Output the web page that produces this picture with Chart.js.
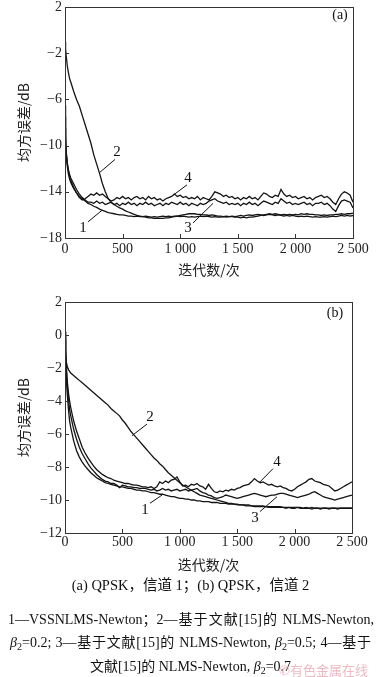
<!DOCTYPE html>
<html>
<head>
<meta charset="utf-8">
<script src="https://cdn.jsdelivr.net/npm/chart.js@4.4.1/dist/chart.umd.min.js"></script>
<style>
  body { margin: 0; width: 381px; height: 677px; overflow: hidden; background: #fff; position: relative; }
  canvas { position: absolute; left: 0; }
  #chart-a { top: 0; }
  #chart-b { top: 290px; }
  .cap { position: absolute; left: 0; width: 381px; font: 14px "Liberation Serif", "Noto Sans CJK SC", serif; color: #111; white-space: nowrap; line-height: 18px; }
  .just { text-align: justify; text-align-last: justify; }
  .mid { text-align: center; }
  .cap i { font-style: italic; }
  .cap sub { font-size: 10px; vertical-align: -3px; line-height: 0; }
  #mark { position: absolute; left: 279px; top: 660px; font: 13px "Noto Sans CJK SC", sans-serif; color: #efb9c3; }
</style>
</head>
<body>
<canvas id="chart-a" width="381" height="282"></canvas>
<canvas id="chart-b" width="381" height="290"></canvas>

<div class="cap mid" style="top:576px; font-size:14.5px;">(a) QPSK，信道 1；(b) QPSK，信道 2</div>
<div class="cap just" style="top:611px; left:8px; width:366px;">1—VSSNLMS-Newton；2—基于文献[15]的 NLMS-Newton,</div>
<div class="cap just" style="top:634px; left:10px; width:361px;"><i>β</i><sub>2</sub>=0.2; 3—基于文献[15]的 NLMS-Newton, <i>β</i><sub>2</sub>=0.5; 4—基于</div>
<div class="cap mid" style="top:658px;">文献[15]的 NLMS-Newton, <i>β</i><sub>2</sub>=0.7</div>
<div id="mark">✆有色金属在线</div>

<script>
// 迭代次数（两幅图共用）
const iterations = [0, 5, 10, 20, 30, 40, 50,
  75, 100, 125, 150, 175, 200, 225, 250, 275, 300,
  325, 350, 375, 400, 425, 450, 475, 500, 525, 550,
  575, 600, 625, 650, 675, 700, 725, 750, 775, 800,
  825, 850, 875, 900, 925, 950, 975, 1000, 1025, 1050,
  1075, 1100, 1125, 1150, 1175, 1200, 1225, 1250, 1275, 1300,
  1325, 1350, 1375, 1400, 1425, 1450, 1475, 1500, 1525, 1550,
  1575, 1600, 1625, 1650, 1675, 1700, 1725, 1750, 1775, 1800,
  1825, 1850, 1875, 1900, 1925, 1950, 1975, 2000, 2025, 2050,
  2075, 2100, 2125, 2150, 2175, 2200, 2225, 2250, 2275, 2300,
  2325, 2350, 2375, 2400, 2425, 2450, 2475, 2500];

// (a) QPSK，信道 1
const mseA1 = [-6.5, -9.0, -10.5, -11.8, -12.5, -12.9, -13.2,
  -13.7, -14.1, -14.4, -14.6, -14.8, -15.0, -15.1, -15.25, -15.35, -15.5,
  -15.6, -15.7, -15.8, -15.85, -15.9, -15.95, -16.0, -16.0, -16.05, -16.1,
  -16.1, -16.15, -16.1, -16.15, -16.15, -16.1, -16.15, -16.2, -16.15, -16.2,
  -16.15, -16.1, -16.15, -16.1, -16.15, -16.1, -16.1, -16.15, -16.1, -16.15,
  -16.2, -16.15, -16.2, -16.15, -16.1, -16.15, -16.1, -16.15, -16.2, -16.15,
  -16.2, -16.2, -16.15, -16.2, -16.15, -16.1, -16.15, -16.1, -16.05, -16.1,
  -16.05, -16.0, -16.05, -16.0, -15.95, -16.0, -16.05, -16.0, -15.95, -16.0,
  -16.05, -16.0, -16.05, -16.1, -16.05, -16.1, -16.05, -16.1, -16.15, -16.1,
  -16.15, -16.1, -16.15, -16.2, -16.15, -16.2, -16.2, -16.15, -16.2, -16.15,
  -16.1, -16.15, -16.1, -16.05, -16.1, -16.05, -16.1, -16.05];
const mseA2 = [-1.0, -1.6, -2.2, -3.1, -3.7, -4.2, -4.5,
  -5.3, -6.0, -6.6, -7.4, -8.2, -9.0, -9.8, -10.8, -11.6, -12.4,
  -13.3, -14.0, -14.6, -14.9, -15.1, -15.25, -15.4, -15.5, -15.65, -15.75,
  -15.85, -15.95, -16.05, -16.1, -16.15, -16.2, -16.25, -16.25, -16.3, -16.3,
  -16.3, -16.3, -16.25, -16.25, -16.2, -16.15, -16.1, -16.05, -16.0, -15.95,
  -15.9, -15.9, -15.9, -15.95, -15.95, -16.0, -16.0, -16.05, -16.0, -16.05,
  -16.1, -16.1, -16.15, -16.1, -16.15, -16.15, -16.2, -16.2, -16.25, -16.2,
  -16.25, -16.2, -16.2, -16.15, -16.1, -16.05, -16.0, -15.95, -15.9, -15.95,
  -15.9, -15.95, -16.0, -15.95, -16.0, -15.95, -16.0, -15.95, -16.0, -15.9,
  -15.95, -15.9, -15.95, -15.95, -16.0, -16.0, -16.05, -16.0, -16.05, -16.0,
  -16.0, -15.95, -15.95, -15.9, -15.95, -15.9, -15.9, -15.85];
const mseA3 = [-8.5, -10.0, -10.8, -11.6, -12.1, -12.5, -12.8,
  -13.3, -13.8, -14.2, -14.5, -14.7, -14.9, -14.9, -15.0, -14.8, -15.0,
  -14.9, -15.1, -15.0, -14.9, -15.1, -15.0, -15.2, -15.0, -15.1, -14.9,
  -15.1, -15.0, -15.2, -15.0, -15.1, -14.9, -15.1, -15.0, -15.2, -15.1,
  -15.0, -15.2, -15.0, -15.1, -14.9, -15.0, -15.1, -14.9, -15.1, -15.0,
  -15.2, -15.0, -15.1, -15.2, -15.0, -15.1, -15.0, -14.8, -14.7, -14.6,
  -14.8, -14.9, -15.0, -14.9, -15.1, -15.0, -15.1, -15.0, -15.2, -15.0,
  -15.1, -14.9, -15.1, -15.0, -15.2, -15.0, -14.8, -14.9, -15.0, -15.1,
  -14.9, -15.0, -14.6, -14.8, -15.0, -14.9, -15.1, -15.0, -15.1, -15.0,
  -14.9, -15.1, -15.0, -15.2, -15.0, -15.0, -14.9, -15.1, -15.0, -15.2,
  -15.5, -15.7, -15.2, -14.8, -14.7, -14.8, -14.9, -15.4];
const mseA4 = [-7.5, -9.5, -10.5, -11.5, -12.2, -12.7, -13.0,
  -13.6, -14.1, -14.5, -14.7, -14.6, -14.4, -14.2, -14.3, -14.1, -14.3,
  -14.2, -14.4, -14.6, -14.8, -14.7, -14.5, -14.6, -14.4, -14.6, -14.5,
  -14.7, -14.5, -14.4, -14.6, -14.5, -14.7, -14.4, -14.6, -14.5, -14.7,
  -14.6, -14.8, -14.6, -14.5, -14.4, -14.2, -14.4, -14.3, -14.5, -14.4,
  -14.6, -14.5, -14.6, -14.4, -14.7, -14.5, -14.6, -14.7, -14.4, -14.0,
  -14.1, -14.2, -14.4, -14.3, -14.5, -14.4, -14.6, -14.5, -14.7, -14.5,
  -14.6, -14.4, -14.6, -14.5, -14.7, -14.4, -14.1, -14.2, -14.4, -14.5,
  -14.3, -14.4, -13.8, -14.2, -14.4, -14.3, -14.5, -14.4, -14.6, -14.5,
  -14.4, -14.6, -14.5, -14.7, -14.5, -14.4, -14.3, -14.5, -14.4, -14.6,
  -14.9, -15.1, -14.6, -14.2, -14.0, -14.1, -14.3, -14.9];

// (b) QPSK，信道 2
const mseB1 = [-0.3, -1.5, -2.5, -3.6, -4.5, -5.2, -5.6,
  -6.4, -7.0, -7.4, -7.7, -7.95, -8.15, -8.35, -8.5, -8.65, -8.75,
  -8.85, -8.95, -9.0, -9.05, -9.1, -9.15, -9.2, -9.2, -9.25, -9.3,
  -9.3, -9.35, -9.4, -9.4, -9.45, -9.45, -9.5, -9.55, -9.55, -9.6,
  -9.65, -9.65, -9.7, -9.75, -9.8, -9.8, -9.85, -9.9, -9.9, -9.95,
  -9.95, -10.0, -10.0, -10.05, -10.05, -10.1, -10.1, -10.1, -10.15, -10.15,
  -10.15, -10.2, -10.2, -10.2, -10.25, -10.25, -10.25, -10.25, -10.3, -10.3,
  -10.3, -10.3, -10.35, -10.35, -10.35, -10.35, -10.35, -10.4, -10.4, -10.4,
  -10.4, -10.4, -10.4, -10.45, -10.45, -10.45, -10.45, -10.45, -10.45, -10.45,
  -10.5, -10.45, -10.5, -10.45, -10.5, -10.5, -10.5, -10.5, -10.5, -10.5,
  -10.5, -10.5, -10.5, -10.5, -10.5, -10.5, -10.5, -10.5];
const mseB2 = [0.2, -1.0, -1.6, -1.9, -2.1, -2.2, -2.3,
  -2.45, -2.6, -2.75, -2.9, -3.05, -3.2, -3.35, -3.5, -3.65, -3.8,
  -3.95, -4.1, -4.25, -4.45, -4.6, -4.75, -4.9, -5.15, -5.35, -5.6,
  -5.85, -6.05, -6.25, -6.45, -6.65, -6.85, -7.05, -7.25, -7.45, -7.6,
  -7.8, -7.95, -8.15, -8.35, -8.5, -8.65, -8.8, -8.95, -9.1, -9.2,
  -9.3, -9.4, -9.5, -9.6, -9.7, -9.75, -9.8, -9.85, -9.9, -9.95,
  -10.0, -10.05, -10.1, -10.15, -10.2, -10.2, -10.25, -10.3, -10.3, -10.3,
  -10.35, -10.35, -10.35, -10.4, -10.4, -10.4, -10.4, -10.4, -10.45, -10.45,
  -10.45, -10.45, -10.45, -10.45, -10.5, -10.45, -10.5, -10.5, -10.45, -10.5,
  -10.5, -10.5, -10.5, -10.55, -10.5, -10.5, -10.55, -10.5, -10.5, -10.55,
  -10.5, -10.5, -10.55, -10.5, -10.5, -10.5, -10.5, -10.5];
const mseB3 = [0.0, -1.1, -2.0, -3.1, -3.9, -4.5, -4.9,
  -5.7, -6.3, -6.8, -7.2, -7.5, -7.8, -8.05, -8.25, -8.45, -8.6,
  -8.75, -8.85, -8.9, -9.0, -9.0, -9.1, -9.25, -9.1, -9.15, -9.2,
  -9.2, -9.25, -9.25, -9.3, -9.3, -9.3, -9.35, -9.4, -9.35, -9.45,
  -9.4, -9.3, -9.4, -9.35, -9.45, -9.4, -9.35, -9.45, -9.4, -9.35,
  -9.45, -9.4, -9.35, -9.3, -9.45, -9.55, -9.6, -9.7, -9.75, -9.85,
  -9.9, -9.85, -9.8, -9.7, -9.75, -9.8, -9.85, -9.9, -9.85, -9.8,
  -9.75, -9.7, -9.65, -9.6, -9.65, -9.7, -9.75, -9.8, -9.75, -9.7,
  -9.7, -9.65, -9.6, -9.6, -9.65, -9.7, -9.75, -9.8, -9.85, -9.8,
  -9.75, -9.7, -9.65, -9.55, -9.5, -9.6, -9.7, -9.8, -9.85, -9.9,
  -9.95, -10.0, -9.95, -9.9, -9.85, -9.8, -9.75, -9.7];
const mseB4 = [0.2, -0.8, -1.7, -2.8, -3.5, -4.0, -4.4,
  -5.2, -5.8, -6.3, -6.8, -7.15, -7.45, -7.7, -7.95, -8.15, -8.3,
  -8.45, -8.55, -8.65, -8.7, -8.8, -8.85, -8.9, -8.95, -9.0, -9.0,
  -9.05, -9.1, -9.1, -9.15, -9.2, -9.2, -9.25, -9.2, -9.3, -9.2,
  -8.9, -9.0, -8.85, -8.95, -8.8, -8.75, -8.6, -8.9, -9.15, -9.1,
  -9.2, -9.05, -9.1, -9.0, -9.15, -9.2, -9.35, -9.05, -9.3, -9.5,
  -9.55, -9.45, -9.5, -9.4, -9.45, -9.35, -9.4, -9.3, -9.25, -9.15,
  -9.1, -9.05, -8.9, -8.7, -8.85, -8.95, -8.9, -9.0, -9.1, -9.05,
  -9.15, -9.2, -9.15, -9.25, -9.3, -9.4, -9.45, -9.35, -9.2, -9.1,
  -9.0, -8.9, -8.75, -8.7, -8.85, -8.9, -8.95, -9.05, -9.1, -9.15,
  -9.3, -9.45, -9.4, -9.3, -9.2, -9.1, -9.0, -8.9];

// 刻度标签
const xTickLabels = ['0', '500', '1 000', '1 500', '2 000', '2 500'];
const yTickLabelsA = ['−18', '−14', '−10', '−6', '−2', '2'];
const yTickLabelsB = ['−12', '−10', '−8', '−6', '−4', '−2', '0', '2'];

const serif = '"Liberation Serif", "Times New Roman", serif';
const cjk = '"Noto Sans CJK SC", sans-serif';

// 边框、向内刻度、曲线编号
const framePlugin = {
  id: 'frame',
  afterDatasetsDraw(chart, args, opts) {
    const { ctx, chartArea: a, scales: { x, y } } = chart;
    ctx.save();
    ctx.strokeStyle = '#333';
    ctx.lineWidth = 1;
    ctx.strokeRect(Math.round(a.left) + 0.5, Math.round(a.top) + 0.5,
      Math.round(a.right - a.left), Math.round(a.bottom - a.top));
    ctx.beginPath();
    x.ticks.forEach(t => {
      const px = Math.round(x.getPixelForValue(t.value)) + 0.5;
      ctx.moveTo(px, a.bottom); ctx.lineTo(px, a.bottom - 4);
    });
    y.ticks.forEach(t => {
      const py = Math.round(y.getPixelForValue(t.value)) + 0.5;
      ctx.moveTo(a.left, py); ctx.lineTo(a.left + 4, py);
    });
    ctx.stroke();

    ctx.fillStyle = '#111';
    ctx.strokeStyle = '#111';
    ctx.font = '15px ' + serif;
    ctx.textAlign = 'center';
    ctx.textBaseline = 'middle';
    opts.notes.forEach(n => {
      ctx.fillText(n.text, x.getPixelForValue(n.at[0]), y.getPixelForValue(n.at[1]));
      ctx.beginPath();
      ctx.moveTo(x.getPixelForValue(n.from[0]), y.getPixelForValue(n.from[1]));
      ctx.lineTo(x.getPixelForValue(n.to[0]), y.getPixelForValue(n.to[1]));
      ctx.stroke();
    });
    ctx.font = '14px ' + serif;
    ctx.fillText(opts.tag, a.right + opts.tagAt[0], a.top + opts.tagAt[1]);
    ctx.restore();
  }
};

function series(values) {
  return values.map((v, i) => ({ x: iterations[i], y: v }));
}

function makeChart(id, curves, yMin, yStep, yLabels, layout, notes, tag, tagAt) {
  new Chart(document.getElementById(id), {
    type: 'line',
    data: {
      datasets: curves.map(c => ({
        data: series(c),
        borderColor: '#141414',
        borderWidth: 1.3,
        pointRadius: 0,
        tension: 0,
        fill: false
      }))
    },
    options: {
      responsive: false,
      animation: false,
      events: [],
      layout: { padding: { top: layout.top, right: layout.right, bottom: 0, left: 0 } },
      plugins: {
        legend: { display: false },
        tooltip: { enabled: false },
        frame: { notes, tag, tagAt }
      },
      scales: {
        x: {
          type: 'linear',
          min: 0,
          max: 2500,
          grid: { display: false, drawTicks: false },
          border: { display: false },
          ticks: {
            stepSize: 500,
            maxRotation: 0,
            padding: layout.xPad,
            color: '#222',
            font: { family: serif, size: 14 },
            callback: (v, i) => xTickLabels[i]
          },
          title: {
            display: true,
            text: '迭代数/次',
            color: '#222',
            font: { family: cjk, size: 14 },
            padding: { top: 0, bottom: layout.titlePad }
          },
          afterFit: s => { s.height = layout.xHeight; s.paddingLeft = 0; s.paddingRight = 0; }
        },
        y: {
          min: yMin,
          max: 2,
          grid: { display: false, drawTicks: false },
          border: { display: false },
          ticks: {
            stepSize: yStep,
            padding: 3,
            color: '#222',
            font: { family: serif, size: 14 },
            callback: (v, i) => yLabels[i]
          },
          title: {
            display: true,
            text: '均方误差/dB',
            color: '#222',
            font: { family: cjk, size: 14 },
            padding: { top: 15, bottom: 0 }
          },
          afterFit: s => { s.width = 65; s.paddingTop = 0; s.paddingBottom = 0; }
        }
      }
    },
    plugins: [framePlugin]
  });
}

makeChart('chart-a', [mseA1, mseA2, mseA3, mseA4], -18, 4, yTickLabelsA,
  { top: 7, right: 28, xHeight: 44, xPad: 3, titlePad: 4 },
  [
    { text: '1', at: [156, -17.1], from: [200, -16.6], to: [321, -15.6] },
    { text: '2', at: [451, -10.6], from: [434, -11.2], to: [304, -12.3] },
    { text: '3', at: [1068, -17.1], from: [1111, -16.7], to: [1285, -15.0] },
    { text: '4', at: [1068, -12.8], from: [1059, -13.4], to: [938, -14.3] }
  ], '(a)', [-13, 8]);

makeChart('chart-b', [mseB1, mseB2, mseB3, mseB4], -12, 2, yTickLabelsB,
  { top: 12, right: 29, xHeight: 47, xPad: 1, titlePad: 7 },
  [
    { text: '1', at: [697, -10.6], from: [740, -10.2], to: [845, -9.7] },
    { text: '2', at: [740, -5.0], from: [714, -5.4], to: [584, -6.1] },
    { text: '3', at: [1655, -11.1], from: [1699, -10.7], to: [1847, -9.8] },
    { text: '4', at: [1847, -7.7], from: [1812, -8.1], to: [1699, -8.9] }
  ], '(b)', [-17, 11]);
</script>
</body>
</html>
